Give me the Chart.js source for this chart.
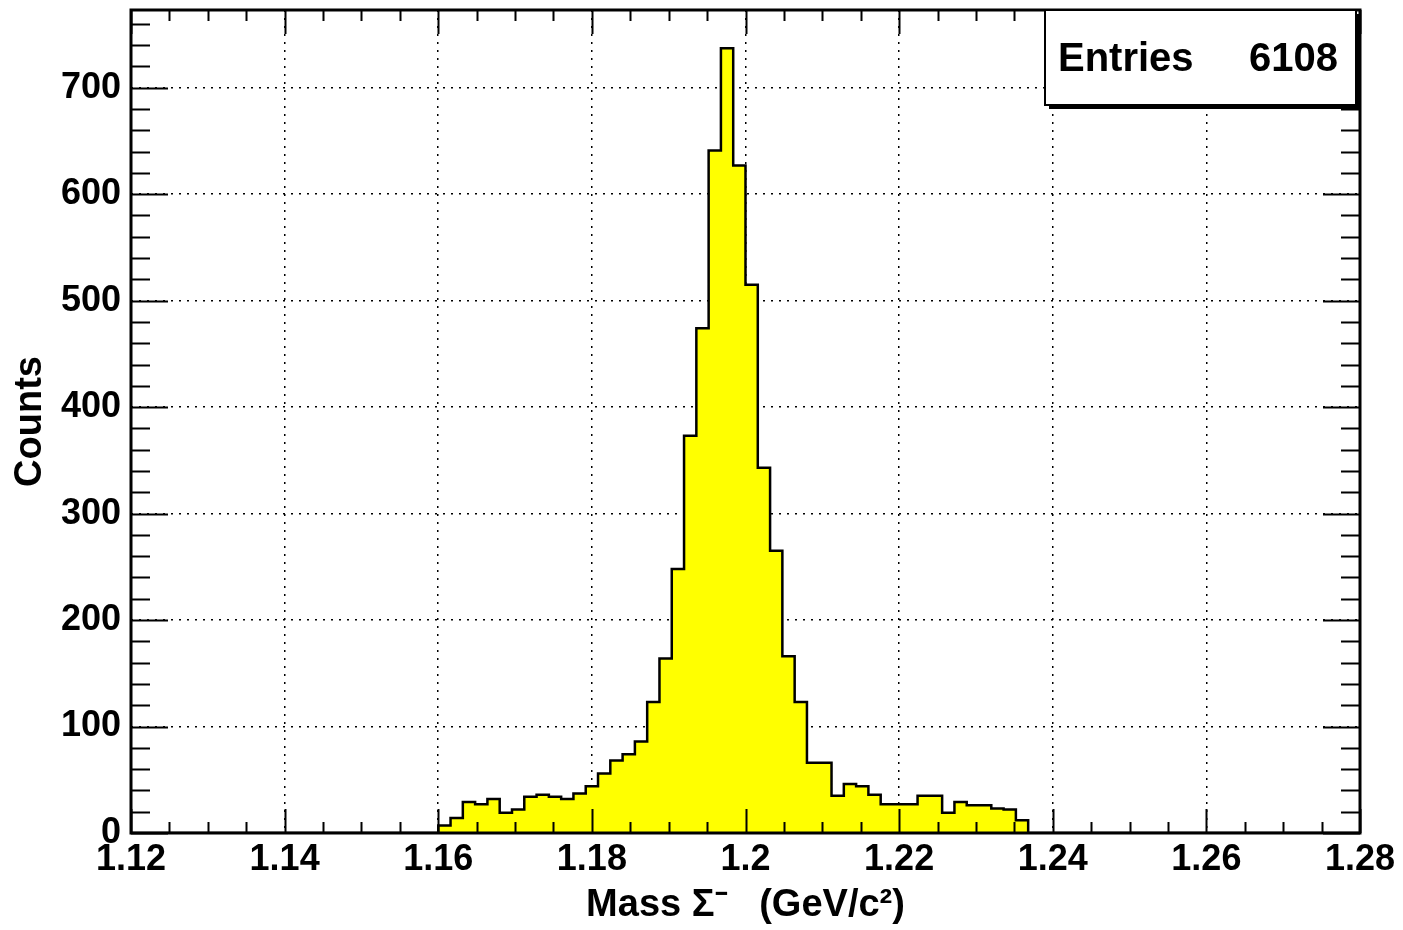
<!DOCTYPE html>
<html>
<head>
<meta charset="utf-8">
<title>Mass Sigma-</title>
<script src="https://cdn.jsdelivr.net/npm/chart.js@4.4.1/dist/chart.umd.min.js"></script>
<style>
  html, body { margin: 0; padding: 0; background: #fff; }
  canvas { display: block; }
</style>
</head>
<body>
<canvas id="histo" width="1403" height="930"></canvas>
<script>
  // histogram range / binning
  var xRange = [1.12, 1.28];
  var yRange = [0, 773];
  var binWidth = 0.0016;
  var firstBinLow = 1.16;
  // counts per bin from 1.16 upward (every other bin is empty)
  var binCounts = [7, 14, 29, 27, 32, 19, 22, 34, 36, 34, 32, 37, 44, 56, 68, 74, 86, 123,
    164, 248, 373, 474, 641, 737, 627, 515, 343, 265, 166, 123, 66, 66, 35, 46, 44, 36,
    27, 27, 27, 35, 35, 19, 29, 26, 26, 23, 22, 12];

  var xTicks = [1.12, 1.14, 1.16, 1.18, 1.2, 1.22, 1.24, 1.26, 1.28];
  var xTickLabels = ['1.12', '1.14', '1.16', '1.18', '1.2', '1.22', '1.24', '1.26', '1.28'];
  var yTicks = [0, 100, 200, 300, 400, 500, 600, 700];
  var yTickLabels = ['0', '100', '200', '300', '400', '500', '600', '700'];
  var entries = 6108;

  // step points at the low edge of each bin ('before' stepping keeps the
  // value until the next point), closed back to 0 at both ends
  var points = [{ x: xRange[0], y: 0 }];
  binCounts.forEach(function (c, i) {
    points.push({ x: firstBinLow + i * binWidth, y: c });
  });
  points.push({ x: firstBinLow + binCounts.length * binWidth, y: 0 });
  points.push({ x: xRange[1], y: 0 });

  var font = '"Liberation Sans", Helvetica, Arial, sans-serif';

  // ROOT style frame: thick box, inward ticks on all four sides, stats box
  var rootFrame = {
    id: 'rootFrame',
    afterDatasetsDraw: function (chart) {
      var ctx = chart.ctx, a = chart.chartArea;
      var xs = chart.scales.x, ys = chart.scales.y;
      ctx.save();
      ctx.strokeStyle = '#000';
      ctx.lineWidth = 2;
      ctx.beginPath();
      // y ticks every 20, major every 100
      for (var v = 0; v <= yRange[1]; v += 20) {
        var py = Math.round(ys.getPixelForValue(v)) + 0.5;
        var len = (v % 100 === 0) ? 37 : 19;
        ctx.moveTo(a.left, py); ctx.lineTo(a.left + len, py);
        ctx.moveTo(a.right, py); ctx.lineTo(a.right - len, py);
      }
      // x ticks every 0.005, major every 0.02
      for (var k = 0; k <= 32; k++) {
        var px = Math.round(xs.getPixelForValue(xRange[0] + k * 0.005)) + 0.5;
        var l2 = (k % 4 === 0) ? 24 : 11;
        ctx.moveTo(px, a.bottom); ctx.lineTo(px, a.bottom - l2);
        ctx.moveTo(px, a.top); ctx.lineTo(px, a.top + l2);
      }
      ctx.stroke();

      ctx.lineWidth = 3;
      ctx.strokeRect(a.left, a.top, a.right - a.left, a.bottom - a.top);

      // stats box
      var bx = 1045, by = 10, bw = 311, bh = 95;
      ctx.fillStyle = '#000';
      ctx.fillRect(bx + 4, by + 4, bw, bh);
      ctx.fillStyle = '#fff';
      ctx.fillRect(bx, by, bw, bh);
      ctx.lineWidth = 2;
      ctx.strokeRect(bx, by, bw, bh);
      ctx.fillStyle = '#000';
      ctx.font = 'bold 40px ' + font;
      ctx.textBaseline = 'middle';
      ctx.textAlign = 'left';
      ctx.fillText('Entries', bx + 13, by + 50);
      ctx.textAlign = 'right';
      ctx.fillText(String(entries), bx + bw - 18, by + 50);
      ctx.restore();
    }
  };

  var ctx = document.getElementById('histo').getContext('2d');
  var histo = new Chart(ctx, {
    type: 'line',
    data: {
      datasets: [{
        label: 'Mass Sigma-',
        data: points,
        stepped: 'before',
        fill: 'origin',
        backgroundColor: '#ffff00',
        borderColor: '#000',
        borderWidth: 2.5,
        pointRadius: 0
      }]
    },
    options: {
      responsive: false,
      animation: false,
      devicePixelRatio: 1,
      layout: { padding: { top: 10, right: 43, left: 0, bottom: 0 } },
      plugins: {
        legend: { display: false },
        tooltip: { enabled: false }
      },
      scales: {
        x: {
          type: 'linear',
          min: xRange[0],
          max: xRange[1],
          afterBuildTicks: function (scale) {
            scale.ticks = xTicks.map(function (v) { return { value: v }; });
          },
          afterFit: function (scale) {
            scale.height = 97;
            scale.paddingLeft = 0;
            scale.paddingRight = 0;
          },
          ticks: {
            autoSkip: false,
            maxRotation: 0,
            padding: 5,
            color: '#000',
            font: { family: font, size: 36, weight: 'bold' },
            callback: function (v, i) { return xTickLabels[i]; }
          },
          grid: { color: '#000', lineWidth: 1.5, drawTicks: false },
          border: { display: false, dash: [2, 6] },
          title: {
            display: true,
            text: 'Mass \u03A3\u207B   (GeV/c\u00B2)',
            color: '#000',
            font: { family: font, size: 38, weight: 'bold' },
            padding: { top: 0, bottom: 2 }
          }
        },
        y: {
          type: 'linear',
          min: yRange[0],
          max: yRange[1],
          afterBuildTicks: function (scale) {
            scale.ticks = yTicks.map(function (v) { return { value: v }; });
          },
          afterFit: function (scale) {
            scale.width = 131;
            scale.paddingTop = 0;
            scale.paddingBottom = 0;
          },
          ticks: {
            padding: 10,
            color: '#000',
            font: { family: font, size: 36, weight: 'bold' },
            callback: function (v, i) { return yTickLabels[i]; }
          },
          grid: { color: '#000', lineWidth: 1.5, drawTicks: false },
          border: { display: false, dash: [2, 6] },
          title: {
            display: true,
            text: 'Counts',
            color: '#000',
            font: { family: font, size: 38, weight: 'bold' },
            padding: { top: 8, bottom: 0 }
          }
        }
      }
    },
    plugins: [rootFrame]
  });
</script>
</body>
</html>
